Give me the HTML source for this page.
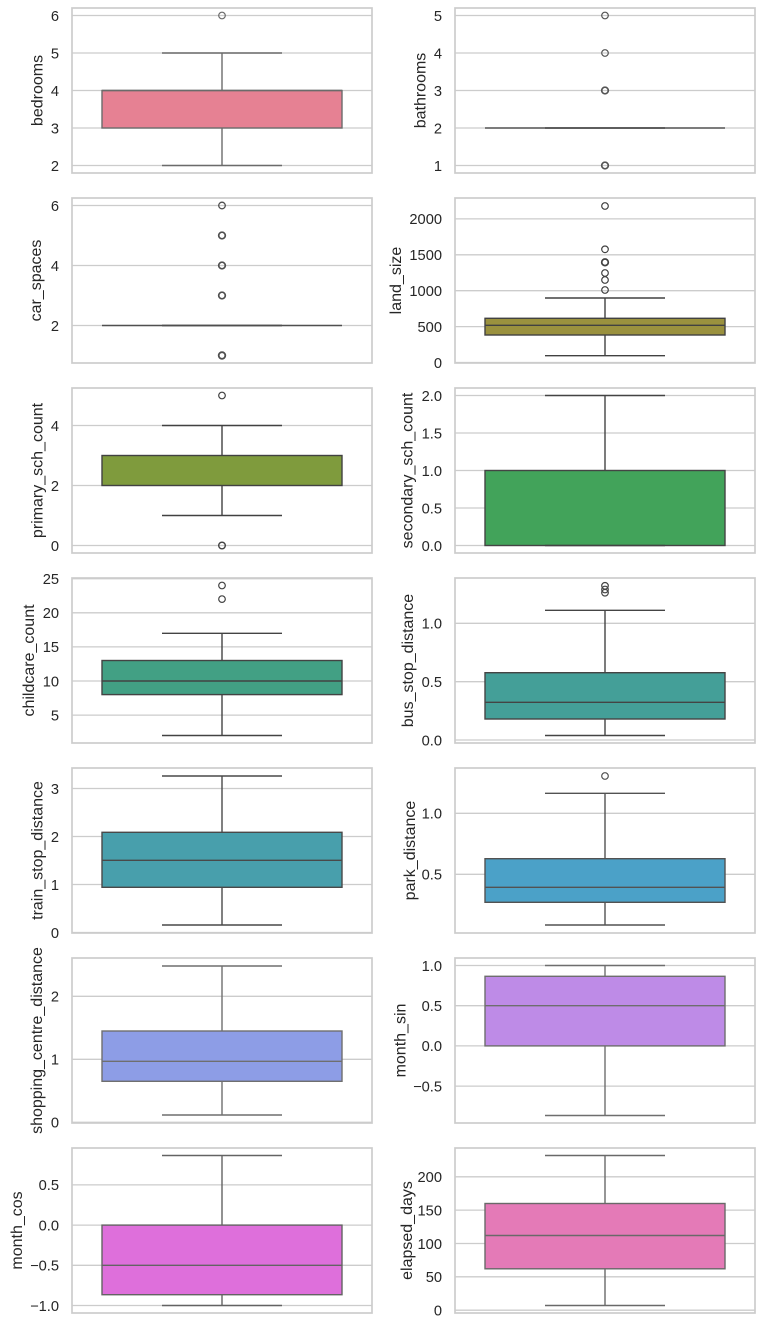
<!DOCTYPE html>
<html><head><meta charset="utf-8"><style>
html,body{margin:0;padding:0;background:#fff;}
svg{display:block;}
text{font-family:"Liberation Sans",Arial,sans-serif;fill:#262626;}
.t{font-size:14.67px;text-anchor:end;}
.yl{font-size:16px;text-anchor:middle;}
.g{stroke:#cccccc;stroke-width:1.3;}
.sp{fill:none;stroke:#cccccc;stroke-width:1.7;}
</style></head><body>
<svg width="764" height="1327" viewBox="0 0 764 1327" xmlns="http://www.w3.org/2000/svg">
<rect width="764" height="1327" fill="#fff"/>

<!-- ===== Row 1 left: bedrooms ===== -->
<g>
<line class="g" x1="72" x2="372" y1="15.5" y2="15.5"/><line class="g" x1="72" x2="372" y1="53" y2="53"/><line class="g" x1="72" x2="372" y1="90.5" y2="90.5"/><line class="g" x1="72" x2="372" y1="128" y2="128"/><line class="g" x1="72" x2="372" y1="165.5" y2="165.5"/>
<text class="t" x="59" y="20.8">6</text><text class="t" x="59" y="58.3">5</text><text class="t" x="59" y="95.8">4</text><text class="t" x="59" y="133.3">3</text><text class="t" x="59" y="170.8">2</text>
<g stroke="#6b6b6b" stroke-width="1.4" fill="none">
<line x1="222" x2="222" y1="128" y2="165.5"/><line x1="222" x2="222" y1="90.5" y2="53"/>
<line x1="162" x2="282" y1="165.5" y2="165.5"/><line x1="162" x2="282" y1="53" y2="53"/>
<rect x="102" y="90.5" width="240" height="37.5" fill="#e68193"/>
<line x1="102" x2="342" y1="90.5" y2="90.5"/>
<circle cx="222" cy="15.5" r="3.3" stroke-width="1.2"/>
</g>
<rect class="sp" x="72" y="8" width="300" height="165"/>
<text class="yl" transform="rotate(-90 42.5 90.5)" x="42.5" y="90.5">bedrooms</text>
</g>

<!-- ===== Row 1 right: bathrooms ===== -->
<g>
<line class="g" x1="455" x2="755" y1="15.5" y2="15.5"/><line class="g" x1="455" x2="755" y1="53" y2="53"/><line class="g" x1="455" x2="755" y1="90.5" y2="90.5"/><line class="g" x1="455" x2="755" y1="128" y2="128"/><line class="g" x1="455" x2="755" y1="165.5" y2="165.5"/>
<text class="t" x="442" y="20.8">5</text><text class="t" x="442" y="58.3">4</text><text class="t" x="442" y="95.8">3</text><text class="t" x="442" y="133.3">2</text><text class="t" x="442" y="170.8">1</text>
<g stroke="#555555" stroke-width="1.4" fill="none">
<line x1="485" x2="725" y1="128" y2="128"/><line x1="545" x2="665" y1="128" y2="128" stroke-width="1.8"/>
<circle cx="605" cy="15.5" r="3.3" stroke-width="1.2"/><circle cx="605" cy="53" r="3.3" stroke-width="1.2"/>
<circle cx="605" cy="90.5" r="3.3" stroke-width="1.7"/><circle cx="605" cy="165.5" r="3.3" stroke-width="1.7"/>
</g>
<rect class="sp" x="455" y="8" width="300" height="165"/>
<text class="yl" transform="rotate(-90 425.5 90.5)" x="425.5" y="90.5">bathrooms</text>
</g>

<!-- ===== Row 2 left: car_spaces ===== -->
<g>
<line class="g" x1="72" x2="372" y1="205.5" y2="205.5"/><line class="g" x1="72" x2="372" y1="265.5" y2="265.5"/><line class="g" x1="72" x2="372" y1="325.5" y2="325.5"/>
<text class="t" x="59" y="210.8">6</text><text class="t" x="59" y="270.8">4</text><text class="t" x="59" y="330.8">2</text>
<g stroke="#4f4f4f" stroke-width="1.4" fill="none">
<line x1="102" x2="342" y1="325.5" y2="325.5"/><line x1="162" x2="282" y1="325.5" y2="325.5" stroke-width="1.8"/>
<circle cx="222" cy="205.5" r="3.3" stroke-width="1.3"/><circle cx="222" cy="235.5" r="3.3" stroke-width="1.7"/>
<circle cx="222" cy="265.5" r="3.3" stroke-width="1.7"/><circle cx="222" cy="295.5" r="3.3" stroke-width="1.7"/>
<circle cx="222" cy="355.5" r="3.3" stroke-width="1.8"/>
</g>
<rect class="sp" x="72" y="198" width="300" height="165"/>
<text class="yl" transform="rotate(-90 41 280.5)" x="41" y="280.5">car_spaces</text>
</g>

<!-- ===== Row 2 right: land_size ===== -->
<g>
<line class="g" x1="455" x2="755" y1="218.9" y2="218.9"/><line class="g" x1="455" x2="755" y1="254.8" y2="254.8"/><line class="g" x1="455" x2="755" y1="290.7" y2="290.7"/><line class="g" x1="455" x2="755" y1="326.6" y2="326.6"/><line class="g" x1="455" x2="755" y1="362.5" y2="362.5"/>
<text class="t" x="442" y="224.2">2000</text><text class="t" x="442" y="260.1">1500</text><text class="t" x="442" y="296">1000</text><text class="t" x="442" y="331.9">500</text><text class="t" x="442" y="367.8">0</text>
<g stroke="#414141" stroke-width="1.4" fill="none">
<line x1="605" x2="605" y1="318.3" y2="298"/><line x1="605" x2="605" y1="335" y2="355.7"/>
<line x1="545" x2="665" y1="298" y2="298"/><line x1="545" x2="665" y1="355.7" y2="355.7"/>
<rect x="485" y="318.3" width="240" height="16.7" fill="#9a913e"/>
<line x1="485" x2="725" y1="325.3" y2="325.3"/>
<circle cx="605" cy="206" r="3.3" stroke-width="1.2"/><circle cx="605" cy="249.3" r="3.3" stroke-width="1.2"/>
<circle cx="605" cy="262.3" r="3.3" stroke-width="1.7"/><circle cx="605" cy="273" r="3.3" stroke-width="1.2"/>
<circle cx="605" cy="280" r="3.3" stroke-width="1.2"/><circle cx="605" cy="290" r="3.3" stroke-width="1.2"/>
</g>
<rect class="sp" x="455" y="198" width="300" height="165"/>
<text class="yl" transform="rotate(-90 401 280.5)" x="401" y="280.5">land_size</text>
</g>

<!-- ===== Row 3 left: primary_sch_count ===== -->
<g>
<line class="g" x1="72" x2="372" y1="425.5" y2="425.5"/><line class="g" x1="72" x2="372" y1="485.5" y2="485.5"/><line class="g" x1="72" x2="372" y1="545.5" y2="545.5"/>
<text class="t" x="59" y="430.8">4</text><text class="t" x="59" y="490.8">2</text><text class="t" x="59" y="550.8">0</text>
<g stroke="#414141" stroke-width="1.4" fill="none">
<line x1="222" x2="222" y1="455.5" y2="425.5"/><line x1="222" x2="222" y1="485.5" y2="515.5"/>
<line x1="162" x2="282" y1="425.5" y2="425.5"/><line x1="162" x2="282" y1="515.5" y2="515.5"/>
<rect x="102" y="455.5" width="240" height="30" fill="#7f9b3d"/>
<circle cx="222" cy="395.5" r="3.3" stroke-width="1.2"/><circle cx="222" cy="545.5" r="3.3" stroke-width="1.4"/>
</g>
<rect class="sp" x="72" y="388" width="300" height="165"/>
<text class="yl" transform="rotate(-90 42.5 470.5)" x="42.5" y="470.5">primary_sch_count</text>
</g>

<!-- ===== Row 3 right: secondary_sch_count ===== -->
<g>
<line class="g" x1="455" x2="755" y1="395.5" y2="395.5"/><line class="g" x1="455" x2="755" y1="433" y2="433"/><line class="g" x1="455" x2="755" y1="470.5" y2="470.5"/><line class="g" x1="455" x2="755" y1="508" y2="508"/><line class="g" x1="455" x2="755" y1="545.5" y2="545.5"/>
<text class="t" x="442" y="400.8">2.0</text><text class="t" x="442" y="438.3">1.5</text><text class="t" x="442" y="475.8">1.0</text><text class="t" x="442" y="513.3">0.5</text><text class="t" x="442" y="550.8">0.0</text>
<g stroke="#444444" stroke-width="1.4" fill="none">
<line x1="605" x2="605" y1="470.5" y2="395.5"/>
<line x1="545" x2="665" y1="395.5" y2="395.5"/>
<rect x="485" y="470.5" width="240" height="75" fill="#42a35a"/>
<line x1="545" x2="665" y1="545.5" y2="545.5"/>
</g>
<rect class="sp" x="455" y="388" width="300" height="165"/>
<text class="yl" transform="rotate(-90 412.5 470.5)" x="412.5" y="470.5">secondary_sch_count</text>
</g>

<!-- ===== Row 4 left: childcare_count ===== -->
<g>
<line class="g" x1="72" x2="372" y1="578.7" y2="578.7"/><line class="g" x1="72" x2="372" y1="612.8" y2="612.8"/><line class="g" x1="72" x2="372" y1="646.9" y2="646.9"/><line class="g" x1="72" x2="372" y1="681" y2="681"/><line class="g" x1="72" x2="372" y1="715.1" y2="715.1"/>
<text class="t" x="59" y="584">25</text><text class="t" x="59" y="618.1">20</text><text class="t" x="59" y="652.2">15</text><text class="t" x="59" y="686.3">10</text><text class="t" x="59" y="720.4">5</text>
<g stroke="#434343" stroke-width="1.4" fill="none">
<line x1="222" x2="222" y1="660.5" y2="633.3"/><line x1="222" x2="222" y1="694.6" y2="735.5"/>
<line x1="162" x2="282" y1="633.3" y2="633.3"/><line x1="162" x2="282" y1="735.5" y2="735.5"/>
<rect x="102" y="660.5" width="240" height="34.1" fill="#42a084"/>
<line x1="102" x2="342" y1="681" y2="681"/>
<circle cx="222" cy="599.1" r="3.3" stroke-width="1.2"/><circle cx="222" cy="585.5" r="3.3" stroke-width="1.2"/>
</g>
<rect class="sp" x="72" y="578" width="300" height="165"/>
<text class="yl" transform="rotate(-90 33.8 660.5)" x="33.8" y="660.5">childcare_count</text>
</g>

<!-- ===== Row 4 right: bus_stop_distance ===== -->
<g>
<line class="g" x1="455" x2="755" y1="623.3" y2="623.3"/><line class="g" x1="455" x2="755" y1="681.7" y2="681.7"/><line class="g" x1="455" x2="755" y1="740" y2="740"/>
<text class="t" x="442" y="628.6">1.0</text><text class="t" x="442" y="687">0.5</text><text class="t" x="442" y="745.3">0.0</text>
<g stroke="#444444" stroke-width="1.4" fill="none">
<line x1="605" x2="605" y1="672.7" y2="610.3"/><line x1="605" x2="605" y1="719" y2="735.5"/>
<line x1="545" x2="665" y1="610.3" y2="610.3"/><line x1="545" x2="665" y1="735.5" y2="735.5"/>
<rect x="485" y="672.7" width="240" height="46.3" fill="#449f98"/>
<line x1="485" x2="725" y1="702.3" y2="702.3"/>
<circle cx="605" cy="585.8" r="3.3" stroke-width="1.2"/><circle cx="605" cy="589.5" r="3.3" stroke-width="1.2"/><circle cx="605" cy="592.7" r="3.3" stroke-width="1.2"/>
</g>
<rect class="sp" x="455" y="578" width="300" height="165"/>
<text class="yl" transform="rotate(-90 413 660.5)" x="413" y="660.5">bus_stop_distance</text>
</g>

<!-- ===== Row 5 left: train_stop_distance ===== -->
<g>
<line class="g" x1="72" x2="372" y1="788.5" y2="788.5"/><line class="g" x1="72" x2="372" y1="836.5" y2="836.5"/><line class="g" x1="72" x2="372" y1="884.5" y2="884.5"/><line class="g" x1="72" x2="372" y1="932.5" y2="932.5"/>
<text class="t" x="59" y="793.8">3</text><text class="t" x="59" y="841.8">2</text><text class="t" x="59" y="889.8">1</text><text class="t" x="59" y="937.8">0</text>
<g stroke="#494949" stroke-width="1.4" fill="none">
<line x1="222" x2="222" y1="832.3" y2="776"/><line x1="222" x2="222" y1="887.3" y2="925"/>
<line x1="162" x2="282" y1="776" y2="776"/><line x1="162" x2="282" y1="925" y2="925"/>
<rect x="102" y="832.3" width="240" height="55" fill="#489fac"/>
<line x1="102" x2="342" y1="860.3" y2="860.3"/>
</g>
<rect class="sp" x="72" y="768" width="300" height="165"/>
<text class="yl" transform="rotate(-90 42.4 850.5)" x="42.4" y="850.5">train_stop_distance</text>
</g>

<!-- ===== Row 5 right: park_distance ===== -->
<g>
<line class="g" x1="455" x2="755" y1="813.3" y2="813.3"/><line class="g" x1="455" x2="755" y1="874.3" y2="874.3"/>
<text class="t" x="442" y="818.6">1.0</text><text class="t" x="442" y="879.6">0.5</text>
<g stroke="#525252" stroke-width="1.4" fill="none">
<line x1="605" x2="605" y1="858.7" y2="793.3"/><line x1="605" x2="605" y1="902.3" y2="925"/>
<line x1="545" x2="665" y1="793.3" y2="793.3"/><line x1="545" x2="665" y1="925" y2="925"/>
<rect x="485" y="858.7" width="240" height="43.6" fill="#4ba1c8"/>
<line x1="485" x2="725" y1="887.3" y2="887.3"/>
<circle cx="605" cy="776" r="3.3" stroke-width="1.2"/>
</g>
<rect class="sp" x="455" y="768" width="300" height="165"/>
<text class="yl" transform="rotate(-90 415 850.5)" x="415" y="850.5">park_distance</text>
</g>

<!-- ===== Row 6 left: shopping_centre_distance ===== -->
<g>
<line class="g" x1="72" x2="372" y1="996.3" y2="996.3"/><line class="g" x1="72" x2="372" y1="1059.3" y2="1059.3"/><line class="g" x1="72" x2="372" y1="1122.3" y2="1122.3"/>
<text class="t" x="59" y="1001.6">2</text><text class="t" x="59" y="1064.6">1</text><text class="t" x="59" y="1127.6">0</text>
<g stroke="#6f6f6f" stroke-width="1.4" fill="none">
<line x1="222" x2="222" y1="1031" y2="966"/><line x1="222" x2="222" y1="1081.3" y2="1115"/>
<line x1="162" x2="282" y1="966" y2="966"/><line x1="162" x2="282" y1="1115" y2="1115"/>
<rect x="102" y="1031" width="240" height="50.3" fill="#8d9de6"/>
<line x1="102" x2="342" y1="1061.3" y2="1061.3"/>
</g>
<rect class="sp" x="72" y="958" width="300" height="165"/>
<text class="yl" transform="rotate(-90 42 1040.5)" x="42" y="1040.5">shopping_centre_distance</text>
</g>

<!-- ===== Row 6 right: month_sin ===== -->
<g>
<line class="g" x1="455" x2="755" y1="965.5" y2="965.5"/><line class="g" x1="455" x2="755" y1="1005.7" y2="1005.7"/><line class="g" x1="455" x2="755" y1="1045.9" y2="1045.9"/><line class="g" x1="455" x2="755" y1="1086.1" y2="1086.1"/>
<text class="t" x="442" y="970.8">1.0</text><text class="t" x="442" y="1011">0.5</text><text class="t" x="442" y="1051.2">0.0</text><text class="t" x="442" y="1091.4">−0.5</text>
<g stroke="#6e6e6e" stroke-width="1.4" fill="none">
<line x1="605" x2="605" y1="976.3" y2="965.5"/><line x1="605" x2="605" y1="1045.9" y2="1115.5"/>
<line x1="545" x2="665" y1="965.5" y2="965.5"/><line x1="545" x2="665" y1="1115.5" y2="1115.5"/>
<rect x="485" y="976.3" width="240" height="69.6" fill="#be8be7"/>
<line x1="485" x2="725" y1="1005.7" y2="1005.7"/>
</g>
<rect class="sp" x="455" y="958" width="300" height="165"/>
<text class="yl" transform="rotate(-90 405.5 1040.5)" x="405.5" y="1040.5">month_sin</text>
</g>

<!-- ===== Row 7 left: month_cos ===== -->
<g>
<line class="g" x1="72" x2="372" y1="1184.9" y2="1184.9"/><line class="g" x1="72" x2="372" y1="1225.1" y2="1225.1"/><line class="g" x1="72" x2="372" y1="1265.3" y2="1265.3"/><line class="g" x1="72" x2="372" y1="1305.5" y2="1305.5"/>
<text class="t" x="59" y="1190.2">0.5</text><text class="t" x="59" y="1230.4">0.0</text><text class="t" x="59" y="1270.6">−0.5</text><text class="t" x="59" y="1310.8">−1.0</text>
<g stroke="#636363" stroke-width="1.4" fill="none">
<line x1="222" x2="222" y1="1225.1" y2="1155.5"/><line x1="222" x2="222" y1="1294.7" y2="1305.5"/>
<line x1="162" x2="282" y1="1155.5" y2="1155.5"/><line x1="162" x2="282" y1="1305.5" y2="1305.5"/>
<rect x="102" y="1225.1" width="240" height="69.6" fill="#de6fdb"/>
<line x1="102" x2="342" y1="1265.3" y2="1265.3"/>
</g>
<rect class="sp" x="72" y="1148" width="300" height="165"/>
<text class="yl" transform="rotate(-90 22 1230.5)" x="22" y="1230.5">month_cos</text>
</g>

<!-- ===== Row 7 right: elapsed_days ===== -->
<g>
<line class="g" x1="455" x2="755" y1="1176.8" y2="1176.8"/><line class="g" x1="455" x2="755" y1="1210.1" y2="1210.1"/><line class="g" x1="455" x2="755" y1="1243.5" y2="1243.5"/><line class="g" x1="455" x2="755" y1="1276.8" y2="1276.8"/><line class="g" x1="455" x2="755" y1="1310.2" y2="1310.2"/>
<text class="t" x="442" y="1182.1">200</text><text class="t" x="442" y="1215.4">150</text><text class="t" x="442" y="1248.8">100</text><text class="t" x="442" y="1282.1">50</text><text class="t" x="442" y="1315.5">0</text>
<g stroke="#696969" stroke-width="1.4" fill="none">
<line x1="605" x2="605" y1="1203.5" y2="1155.5"/><line x1="605" x2="605" y1="1268.8" y2="1305.5"/>
<line x1="545" x2="665" y1="1155.5" y2="1155.5"/><line x1="545" x2="665" y1="1305.5" y2="1305.5"/>
<rect x="485" y="1203.5" width="240" height="65.3" fill="#e47ab7"/>
<line x1="485" x2="725" y1="1235.5" y2="1235.5"/>
</g>
<rect class="sp" x="455" y="1148" width="300" height="165"/>
<text class="yl" transform="rotate(-90 412 1230.5)" x="412" y="1230.5">elapsed_days</text>
</g>

</svg>
</body></html>
